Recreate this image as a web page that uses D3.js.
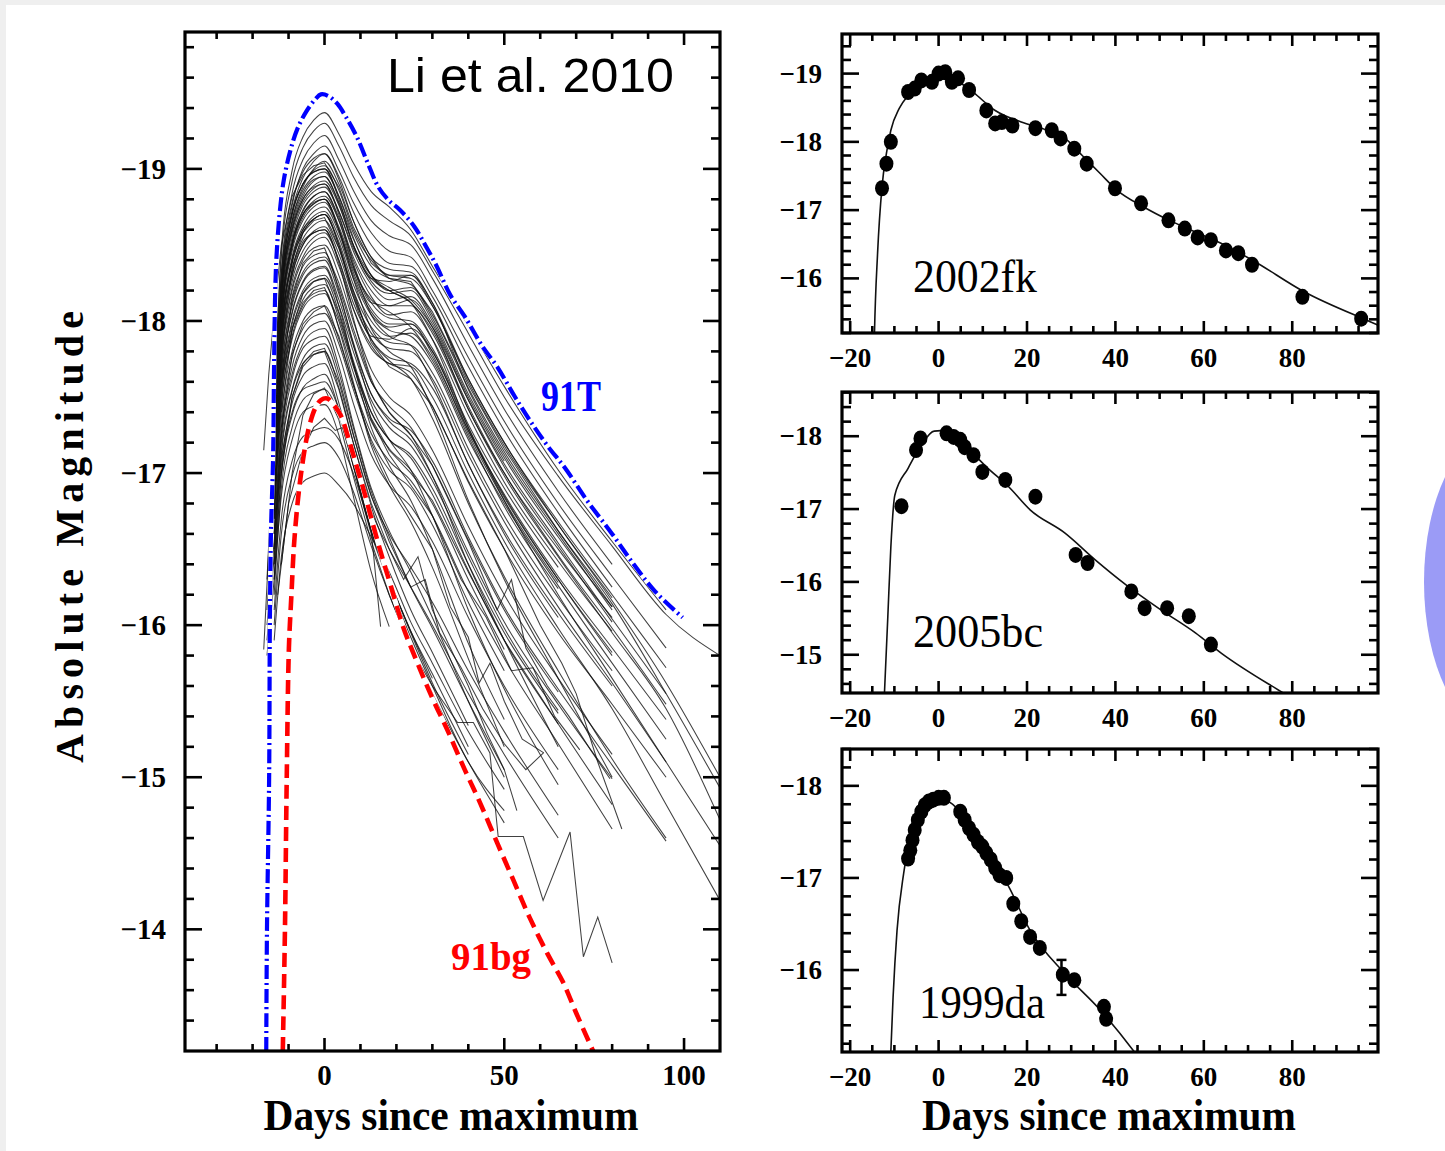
<!DOCTYPE html>
<html><head><meta charset="utf-8">
<script src="https://cdn.jsdelivr.net/npm/d3@7"></script>
<style>html,body{margin:0;padding:0;background:#fff;}svg{display:block;}</style>
</head><body>
<svg id="c" width="1445" height="1151"></svg>
<script>
const N = null;
// ---------- Left panel (Li et al. 2010) ----------
const LEFT_DAYS = [-16,-14,-12,-9,-6,-3,0,4,8,13,18,24,30,40,50,65,80,95,110];
const LEFT_CURVES = [
 [N,-17.47,-18.47,-18.99,-19.21,-19.32,-19.37,-19.23,-19.04,-18.85,-18.75,-18.6,-18.36,-17.97,-17.57,-17.02,-16.55,-16.1,N],
 [N,-17.5,-18.42,-18.92,-19.14,-19.25,-19.3,-19.15,-18.95,-18.76,-18.66,-18.56,-18.33,-17.92,-17.5,-16.98,-16.52,-16.07,-15.8],
 [N,-17.4,-18.32,-18.84,-19.06,-19.17,-19.22,-19.06,-18.86,-18.66,-18.56,-18.5,-18.28,-17.84,-17.42,-16.88,-16.4,N,N],
 [N,-17.3,-18.25,-18.76,-19.0,-19.1,-19.15,-18.99,-18.78,-18.58,-18.46,-18.42,-18.2,-17.76,-17.34,-16.8,-16.32,-15.85,N],
 [N,-17.25,-18.2,-18.72,-18.94,-19.05,-19.1,-18.95,-18.72,-18.5,-18.38,-18.36,-18.16,-17.7,-17.28,-16.74,-16.25,N,N],
 [N,-17.2,-18.15,-18.66,-18.88,-19.0,-19.05,-18.9,-18.66,-18.42,-18.3,-18.3,-18.1,-17.62,-17.2,-16.66,-16.16,-15.62,-15.0],
 [N,-17.3,-18.22,-18.7,-18.9,-18.99,-19.02,-18.86,-18.6,-18.4,-18.3,-18.28,-18.1,-17.6,-17.18,-16.66,-16.18,N,N],
 [-16.3,-17.25,-18.18,-18.66,-18.86,-18.95,-18.98,-18.82,-18.58,-18.36,-18.28,-18.24,-18.04,-17.56,-17.14,-16.62,-16.14,-15.55,-14.93],
 [N,-17.2,-18.15,-18.62,-18.82,-18.92,-18.95,-18.78,-18.54,-18.3,-18.2,-18.22,-18.02,-17.52,-17.1,-16.58,-16.12,N,N],
 [N,-17.15,-18.1,-18.6,-18.8,-18.89,-18.92,-18.76,-18.5,-18.3,-18.22,-18.14,-17.96,-17.48,-17.06,-16.54,-16.04,-15.55,N],
 [N,-17.2,-18.1,-18.58,-18.78,-18.87,-18.9,-18.72,-18.46,-18.24,-18.14,-18.16,-17.98,-17.48,-17.04,-16.52,-16.02,N,N],
 [N,-17.1,-18.06,-18.55,-18.76,-18.85,-18.88,-18.72,-18.48,-18.28,-18.2,-18.12,-17.94,-17.44,-17.0,-16.5,-16.05,N,N],
 [N,-17.05,-18.02,-18.52,-18.73,-18.82,-18.85,-18.68,-18.42,-18.2,-18.1,-18.1,-17.92,-17.42,-16.98,-16.45,-15.95,-15.45,-14.72],
 [N,-17.0,-18.0,-18.5,-18.7,-18.79,-18.82,-18.66,-18.4,-18.16,-18.04,-18.06,-17.88,-17.38,-16.94,-16.42,-15.96,N,N],
 [N,-17.0,-17.98,-18.48,-18.68,-18.77,-18.8,-18.62,-18.36,-18.12,-18.02,-18.0,-17.82,-17.32,-16.9,-16.38,N,N,N],
 [N,-16.95,-17.96,-18.46,-18.66,-18.75,-18.78,-18.6,-18.34,-18.14,-18.06,-17.96,-17.76,-17.28,-16.86,-16.32,-15.85,-15.38,N],
 [N,-16.9,-17.92,-18.42,-18.62,-18.72,-18.75,-18.58,-18.3,-18.06,-17.96,-17.98,-17.8,-17.3,-16.85,-16.3,-15.8,N,N],
 [N,-16.9,-17.9,-18.4,-18.6,-18.69,-18.72,-18.55,-18.28,-18.04,-17.94,-17.9,-17.72,-17.22,-16.8,-16.26,-15.75,-15.25,N],
 [N,-16.85,-17.88,-18.38,-18.58,-18.67,-18.7,-18.52,-18.24,-18.0,-17.9,-17.92,-17.74,-17.24,-16.78,-16.24,N,N,N],
 [N,-16.8,-17.84,-18.34,-18.54,-18.63,-18.66,-18.48,-18.2,-17.96,-17.86,-17.84,-17.66,-17.16,-16.72,-16.18,-15.7,N,N],
 [N,-16.8,-17.8,-18.3,-18.5,-18.59,-18.62,-18.44,-18.16,-17.92,-17.82,-17.8,-17.62,-17.12,-16.68,-16.12,-15.62,-15.1,N],
 [N,-16.75,-17.76,-18.26,-18.46,-18.55,-18.58,-18.4,-18.12,-17.88,-17.76,-17.72,-17.56,-17.06,-16.6,-16.05,N,N,N],
 [N,-16.7,-17.72,-18.22,-18.42,-18.52,-18.55,-18.36,-18.08,-17.84,-17.72,-17.7,-17.5,-17.0,-16.55,-15.98,-15.45,-14.82,-14.19],
 [N,-17.4,-18.3,-18.72,-18.9,-18.98,-19.0,-18.8,-18.5,-18.28,-18.26,-18.3,-18.12,-17.55,-17.12,-16.6,-16.1,N,N],
 [N,-17.3,-18.2,-18.6,-18.8,-18.88,-18.9,-18.7,-18.38,-18.12,-18.1,-18.14,-17.96,-17.42,-17.0,-16.46,-15.98,-15.48,N],
 [N,-17.1,-18.05,-18.52,-18.72,-18.82,-18.85,-18.66,-18.36,-18.04,-17.9,-17.84,-17.6,-17.06,-16.62,-16.08,-15.6,N,N],
 [N,-17.0,-17.9,-18.38,-18.58,-18.67,-18.7,-18.5,-18.16,-17.9,-17.88,-17.95,-17.8,-17.28,-16.84,-16.3,-15.82,N,N],
 [N,-16.9,-17.82,-18.3,-18.5,-18.58,-18.6,-18.4,-18.08,-17.82,-17.72,-17.66,-17.44,-16.94,-16.5,-15.95,-15.48,-15.0,N],
 [N,-17.35,-18.3,-18.78,-18.98,-19.07,-19.1,-18.93,-18.66,-18.42,-18.34,-18.32,-18.12,-17.62,-17.2,-16.68,-16.2,-15.72,N],
 [N,-17.25,-18.16,-18.64,-18.84,-18.93,-18.95,-18.77,-18.5,-18.26,-18.18,-18.2,-18.0,-17.5,-17.08,N,N,N,N],
 [N,-17.15,-18.05,-18.5,-18.7,-18.78,-18.8,-18.6,-18.32,-18.08,-17.98,-17.98,-17.78,-17.26,-16.82,-16.28,N,N,N],
 [N,-17.0,-17.75,-18.2,-18.4,-18.48,-18.5,-18.3,-18.0,-17.68,-17.5,-17.38,-17.15,-16.65,-16.2,-15.65,-15.15,N,N],
 [N,-16.9,-17.67,-18.12,-18.32,-18.4,-18.42,-18.22,-17.92,-17.6,-17.44,-17.3,-17.05,-16.56,-16.1,-15.56,N,N,N],
 [N,-16.85,-17.6,-18.06,-18.26,-18.34,-18.36,-18.14,-17.84,-17.52,-17.34,-17.22,-16.98,-16.48,-16.02,-15.48,-14.99,N,N],
 [-16.1,-16.8,-17.55,-18.0,-18.2,-18.28,-18.3,-18.1,-17.8,-17.48,-17.3,-17.18,-16.95,-16.45,-15.98,-15.44,N,N,N],
 [N,-16.75,-17.5,-17.94,-18.14,-18.22,-18.24,-18.02,-17.72,-17.4,-17.22,-17.1,-16.86,-16.36,-15.9,-15.35,-14.82,N,N],
 [N,-16.7,-17.44,-17.88,-18.08,-18.16,-18.18,-17.96,-17.66,-17.34,-17.16,-17.02,-16.8,-16.3,-15.84,N,N,N,N],
 [N,-16.6,-17.36,-17.8,-18.0,-18.08,-18.1,-17.88,-17.58,-17.26,-17.08,-16.95,-16.72,-16.22,-15.78,-15.22,-14.66,N,N],
 [N,-16.6,-17.3,-17.76,-17.95,-18.03,-18.05,-17.85,-17.55,-17.22,-17.02,-16.9,-16.66,-16.15,-15.7,N,N,N,N],
 [-16.0,-16.55,-17.25,-17.7,-17.9,-17.98,-18.0,-17.78,-17.46,-17.12,-16.92,-16.78,-16.55,-16.05,-15.6,-15.05,N,N,N],
 [N,-16.95,-17.66,-18.1,-18.3,-18.38,-18.4,-18.18,-17.86,-17.52,-17.36,-17.28,-17.08,-16.58,-16.12,-15.58,-15.08,-14.58,N],
 [N,-16.8,-17.52,-17.98,-18.18,-18.26,-18.28,-18.06,-17.74,-17.4,-17.22,-17.12,-16.9,-16.4,-15.95,-15.42,N,N,N],
 [N,-16.5,-17.2,-17.62,-17.82,-17.88,-17.9,-17.66,-17.3,-16.88,-16.58,-16.25,-15.98,-15.5,-15.05,N,N,N,N],
 [-15.9,-16.45,-17.12,-17.54,-17.72,-17.78,-17.8,-17.56,-17.2,-16.78,-16.45,-16.1,-15.82,-15.34,N,N,N,N,N],
 [N,-16.4,-17.05,-17.46,-17.64,-17.7,-17.72,-17.46,-17.08,-16.62,-16.3,-15.96,-15.65,N,N,N,N,N,N],
 [N,-16.3,-16.98,-17.38,-17.56,-17.62,-17.65,-17.42,-17.05,-16.6,-16.28,-15.92,-15.6,-15.1,-14.78,N,N,N,N],
 [N,-16.2,-16.9,-17.3,-17.48,-17.53,-17.55,-17.38,-17.05,-16.62,-16.3,-15.96,-15.68,-15.2,N,N,N,N,N],
 [-15.8,-16.3,-16.85,-17.22,-17.4,-17.44,-17.45,-17.25,-16.85,-16.35,-15.99,N,N,N,N,N,N,N,N],
 [N,-16.1,-16.7,-17.08,-17.24,-17.28,-17.3,-17.22,-17.0,-16.62,-16.3,-15.95,-15.62,-15.15,N,N,N,N,N],
 [N,-16.0,-16.6,-16.98,-17.14,-17.18,-17.2,-17.1,-16.88,-16.52,-16.2,-15.86,-15.55,-15.1,-14.7,N,N,N,N],
 [N,-15.9,-16.45,-16.8,-16.94,-16.98,-17.0,-16.92,-16.8,-16.58,-16.35,-16.02,-15.75,-15.3,-14.92,N,N,N,N],
 [N,-16.9,-17.85,-18.32,-18.52,-18.58,-18.6,-18.38,-18.02,-17.62,-17.4,-17.25,-16.98,-16.4,-15.9,-15.2,N,N,N],
 [N,-16.8,-17.7,-18.16,-18.36,-18.43,-18.45,-18.2,-17.85,-17.45,-17.22,-17.02,-16.72,-16.1,-15.58,-14.95,N,N,N],
 [N,-17.1,-18.0,-18.5,-18.7,-18.77,-18.8,-18.6,-18.28,-17.95,-17.8,-17.7,-17.42,-16.82,-16.3,-15.65,-15.0,N,N],
 [N,-16.8,-17.6,-18.05,-18.25,-18.33,-18.35,-18.1,-17.72,-17.3,-17.05,-16.82,-16.5,-15.88,-15.38,N,N,N,N],
 [N,-16.7,-17.45,-17.9,-18.1,-18.18,-18.2,-17.95,-17.6,-17.18,-16.92,-16.68,-16.38,-15.78,-15.2,N,N,N,N],
 [N,-16.5,-17.25,-17.65,-17.85,-17.93,-17.95,-17.7,-17.32,-16.9,-16.62,-16.35,-16.05,-15.5,-15.0,N,N,N,N],
 [N,-17.0,-17.9,-18.4,-18.6,-18.67,-18.7,-18.5,-18.2,-17.88,-17.74,-17.62,-17.36,-16.8,-16.32,-15.7,-15.12,-14.6,N],
 [N,-17.3,-18.2,-18.7,-18.9,-18.98,-19.0,-18.82,-18.55,-18.3,-18.2,-18.12,-17.88,-17.3,-16.82,-16.2,-15.65,-15.1,-14.55],
 [N,-16.3,-17.0,-17.4,-17.55,-17.58,-17.6,-17.42,-17.12,-16.75,-16.5,-16.25,-16.0,-15.55,-15.15,-14.6,N,N,N],
 [N,-16.4,-17.15,-17.55,-17.75,-17.83,-17.85,-17.62,-17.26,-16.85,-16.6,-16.38,-16.15,-15.7,-15.3,-14.75,N,N,N]
];
// curves sampled at their own epochs: [day, magnitude]
const LEFT_IRREGULAR = [
 [[-12,-16.4],[-9,-17.0],[-6,-17.38],[-3,-17.52],[0,-17.56],[4,-17.35],[8,-16.98],[13,-16.55],[18,-16.2],[24,-15.85],[30,-15.6],[37,-15.36],[41.4,-15.36],[46,-15.16],[48.3,-14.61],[55.3,-14.61],[60.8,-14.19],[68.3,-14.64],[72,-13.82],[76,-14.08],[80,-13.78]],
 [[-12,-17.3],[-9,-17.78],[-6,-17.98],[-3,-18.06],[0,-18.1],[4,-17.9],[8,-17.58],[13,-17.2],[18,-16.95],[24,-16.72],[30,-16.5],[35,-16.12],[40,-15.92],[43,-15.62],[46,-15.75],[50,-15.5],[55,-15.25],[61,-15.16]],
 [[-14,-16.6],[-12,-17.1],[-9,-17.5],[-6,-17.7],[-3,-17.78],[0,-17.8],[4,-17.55],[8,-17.2],[13,-16.8],[18,-16.5],[22,-16.3],[26,-16.45],[30,-16.1],[35,-15.85],[40,-15.6],[45,-15.3],[50,-15.05],[53.5,-14.78]],
 [[-12,-17.6],[-9,-18.15],[-6,-18.38],[-3,-18.46],[0,-18.48],[4,-18.25],[8,-17.95],[13,-17.6],[18,-17.4],[24,-17.25],[30,-17.05],[40,-16.55],[48,-16.1],[52,-16.3],[56,-15.85],[62,-15.6],[68,-15.4],[74,-15.18],[79.4,-14.99]],
 [[-12,-17.8],[-9,-18.35],[-6,-18.58],[-3,-18.66],[0,-18.68],[4,-18.48],[8,-18.18],[13,-17.86],[18,-17.7],[24,-17.62],[30,-17.44],[40,-16.95],[50,-16.5],[60,-16.0],[66,-15.75],[70,-15.55],[76,-15.1],[82.7,-14.66]],
 [[-16.9,-17.15],[-15.5,-17.65],[-14,-18.05],[-12,-18.5],[-9,-18.82],[-6,-18.96],[-3,-19.02],[0,-19.04],[4,-18.88],[8,-18.62],[13,-18.38],[18,-18.28],[24,-18.26],[30,-18.06],[40,-17.58],[50,-17.16],[65,-16.62],[80,-16.12]],
 [[-16.9,-15.84],[-15.5,-16.5],[-14,-17.1],[-12,-17.6],[-9,-17.95],[-6,-18.12],[-3,-18.2],[0,-18.22],[4,-18.0],[8,-17.7],[13,-17.36],[18,-17.15],[24,-17.0],[30,-16.82],[40,-16.35],[50,-15.9],[65,-15.35]],
 [[-13,-16.2],[-10,-16.8],[-6,-17.15],[-3,-17.3],[0,-17.36],[3,-17.28],[5,-17.3],[8,-17.05],[13,-16.62],[15.6,-15.99]],
 [[-12,-17.0],[-9,-17.5],[-6,-17.72],[-3,-17.8],[0,-17.82],[4,-17.6],[8,-17.25],[13,-16.85],[18,-16.55],[24,-16.25],[28,-16.3],[32,-15.95],[38,-15.72],[44,-15.45],[50,-15.22],[56,-15.05],[60.9,-15.16]],
 [[-12,-17.4],[-9,-17.95],[-6,-18.18],[-3,-18.26],[0,-18.28],[4,-18.05],[8,-17.72],[13,-17.35],[18,-17.12],[24,-16.92],[30,-16.72],[38,-16.3],[45,-16.05],[52,-15.7],[58,-15.72],[64,-15.4],[71,-15.18]]
];
const T91_DAYS = [-16.2,-16.0,-15.4,-15.2,-14.9,-14.3,-14.0,-13.5,-12.5,-11.3,-9.5,-7.6,-5,-2.5,-1,1,3.5,6,9,12,15,18,21,25,28,31,35,39,44,48,53,57,62,67,73,80,86,92,99.6];
const T91_MAGS = [-13.2,-14.0,-15.0,-16.0,-16.6,-17.1,-17.75,-18.35,-18.7,-18.93,-19.12,-19.26,-19.38,-19.46,-19.49,-19.48,-19.43,-19.34,-19.21,-19.04,-18.88,-18.79,-18.73,-18.62,-18.5,-18.37,-18.17,-18.03,-17.83,-17.7,-17.5,-17.35,-17.18,-17.03,-16.82,-16.6,-16.4,-16.22,-16.05];
const BG91_DAYS = [-11.6,-11.0,-10.5,-9.9,-9.2,-8.5,-7.5,-6.5,-5.2,-4,-2.5,-1,0.8,2.5,4.5,7,9,11,13.5,16,18.3,22,25,30,34,39,43.3,48,52.6,57,62,66.4,70,74.7];
const BG91_MAGS = [-13.2,-14.0,-15.0,-15.85,-16.2,-16.52,-16.8,-17.0,-17.2,-17.33,-17.43,-17.48,-17.49,-17.45,-17.38,-17.2,-17.04,-16.88,-16.66,-16.45,-16.27,-15.98,-15.8,-15.52,-15.32,-15.05,-14.83,-14.57,-14.32,-14.08,-13.84,-13.65,-13.45,-13.2];
const LEFT_X_MAJOR = [0,50,100];
const LEFT_X_LABELS = ['0','50','100'];
const LEFT_X_MINOR = [-30,-20,-10,10,20,30,40,60,70,80,90];
const LEFT_Y_MAJOR = [-19,-18,-17,-16,-15,-14];
const LEFT_Y_LABELS = ['\u221219','\u221218','\u221217','\u221216','\u221215','\u221214'];

// ---------- Right panels ----------
const RIGHT_X_MAJOR = [-20,0,20,40,60,80];
const RIGHT_X_LABELS = ['\u221220','0','20','40','60','80'];

const FK_DAYS = [-12.8,-11.8,-10.8,-6.9,-5.4,-3.9,-1.5,0,1.5,3.0,4.4,6.9,10.8,12.8,14.3,16.7,21.9,25.6,27.6,30.7,33.5,39.9,45.8,52.0,55.7,58.6,61.6,65.0,67.8,70.9,82.3,95.6];
const FK_MAGS = [-17.32,-17.68,-18.0,-18.73,-18.78,-18.9,-18.88,-19.0,-19.02,-18.88,-18.93,-18.76,-18.46,-18.27,-18.29,-18.24,-18.2,-18.17,-18.05,-17.9,-17.68,-17.32,-17.1,-16.85,-16.73,-16.6,-16.56,-16.41,-16.37,-16.2,-15.73,-15.41];
const FK_FIT_DAYS = [-14.6,-14.5,-13.8,-12.8,-11.8,-10.8,-8.9,-6.9,-3.9,0,3.9,7.9,12.8,18.7,24.6,28.6,32.5,36.5,40.4,46.3,52.2,58.1,64,70.9,82.8,97.5,100];
const FK_FIT_MAGS = [-14.9,-15.2,-16.37,-17.34,-17.83,-18.17,-18.49,-18.68,-18.84,-18.95,-18.9,-18.72,-18.46,-18.29,-18.17,-18.05,-17.8,-17.54,-17.29,-17.05,-16.85,-16.68,-16.51,-16.27,-15.8,-15.37,-15.3];
const FK_Y_MAJOR = [-19,-18,-17,-16];

const BC_DAYS = [-8.4,-5.1,-4.1,1.8,3.4,4.9,5.9,7.9,9.9,15.1,21.9,31.0,33.7,43.6,46.6,51.7,56.6,61.6];
const BC_MAGS = [-17.04,-17.81,-17.97,-18.04,-17.99,-17.95,-17.85,-17.74,-17.51,-17.4,-17.17,-16.37,-16.26,-15.87,-15.64,-15.64,-15.53,-15.14];
const BC_FIT_DAYS = [-12.3,-11.5,-10.8,-9.9,-6.9,-3.9,-1,2,5.9,10.8,15.8,20.7,28.6,35.5,42.4,50.2,58.1,64,77.3,80];
const BC_FIT_MAGS = [-14.4,-15.5,-16.48,-17.19,-17.56,-17.88,-18.07,-18.08,-17.88,-17.58,-17.31,-16.99,-16.67,-16.3,-15.96,-15.62,-15.3,-15.02,-14.5,-14.4];
const BC_Y_MAJOR = [-18,-17,-16,-15];

const DA_DAYS = [-6.9,-6.4,-5.9,-5.4,-4.7,-3.9,-3.1,-2.2,-1.2,0,1.2,4.9,5.9,6.9,7.9,8.9,9.9,10.8,11.8,12.8,13.8,15.3,16.9,18.7,20.7,22.9,28.1,30.7,37.4,37.9];
const DA_MAGS = [-17.21,-17.3,-17.41,-17.52,-17.63,-17.72,-17.79,-17.83,-17.85,-17.87,-17.87,-17.72,-17.63,-17.54,-17.47,-17.39,-17.34,-17.27,-17.2,-17.11,-17.03,-17.0,-16.72,-16.53,-16.36,-16.24,-15.95,-15.89,-15.6,-15.47];
const DA_FIT_DAYS = [-10.9,-10.3,-9.4,-7.9,-4.9,-2,1,2.9,8.9,15.8,20.7,28.6,36.5,44.3,46];
const DA_FIT_MAGS = [-15.0,-15.7,-16.43,-17.05,-17.58,-17.78,-17.85,-17.81,-17.41,-16.91,-16.43,-15.96,-15.57,-15.11,-15.0];
const DA_ERR = [27.8,-16.11,-15.73];
const DA_Y_MAJOR = [-18,-17,-16];

const SERIF = '"Liberation Serif","Times New Roman",serif';
const svg = d3.select('#c');
svg.append('rect').attr('width',1445).attr('height',1151).attr('fill','#fff');
svg.append('rect').attr('x',0).attr('y',0).attr('width',1445).attr('height',5).attr('fill','#efefef');
svg.append('rect').attr('x',0).attr('y',0).attr('width',6).attr('height',1151).attr('fill','#efefef');
svg.append('ellipse').attr('cx',1500).attr('cy',582).attr('rx',76).attr('ry',152).attr('fill','#9b9bf6');

function txt(g, x, y, s, o){
  const t = g.append('text').attr('x',x).attr('y',y)
    .attr('font-family', o.family||SERIF).attr('font-size',o.size)
    .attr('font-weight', o.weight||'bold').attr('text-anchor', o.anchor||'middle')
    .attr('fill', o.fill||'#000').text(s);
  if (o.len) t.attr('textLength',o.len).attr('lengthAdjust',o.adjust||'spacingAndGlyphs');
  if (o.rotate) t.attr('transform',`rotate(${o.rotate},${x},${y})`);
  return t;
}
function minorRange(a,b,step,majors){
  const out=[]; const n=Math.round((b-a)/step);
  for(let i=0;i<=n;i++){const v=+(a+i*step).toFixed(4); if(!majors.some(m=>Math.abs(m-v)<1e-6)) out.push(v);}
  return out;
}
function frame(g, x, y, xMaj, xMin, yMaj, yMin, L){
  const [x0,x1]=x.range(), [y0,y1]=y.range();
  const tk = g.append('g').attr('stroke','#000').attr('stroke-width',2.6);
  xMaj.forEach(v=>{const px=x(v);
    tk.append('line').attr('x1',px).attr('x2',px).attr('y1',y1).attr('y2',y1-L.xM);
    tk.append('line').attr('x1',px).attr('x2',px).attr('y1',y0).attr('y2',y0+L.xM);});
  xMin.forEach(v=>{const px=x(v);
    tk.append('line').attr('x1',px).attr('x2',px).attr('y1',y1).attr('y2',y1-L.xm);
    tk.append('line').attr('x1',px).attr('x2',px).attr('y1',y0).attr('y2',y0+L.xm);});
  yMaj.forEach(v=>{const py=y(v);
    tk.append('line').attr('y1',py).attr('y2',py).attr('x1',x0).attr('x2',x0+L.yM);
    tk.append('line').attr('y1',py).attr('y2',py).attr('x1',x1).attr('x2',x1-L.yM);});
  yMin.forEach(v=>{const py=y(v);
    tk.append('line').attr('y1',py).attr('y2',py).attr('x1',x0).attr('x2',x0+L.ym);
    tk.append('line').attr('y1',py).attr('y2',py).attr('x1',x1).attr('x2',x1-L.ym);});
  g.append('rect').attr('x',x0).attr('y',y0).attr('width',x1-x0).attr('height',y1-y0)
    .attr('fill','none').attr('stroke','#000').attr('stroke-width',3.2);
}

// ---------- LEFT PANEL ----------
const xL = d3.scaleLinear().domain([-38.8,110]).range([185,720]);
const yL = d3.scaleLinear().domain([-19.9,-13.2]).range([32,1051]);
const gL = svg.append('g');
svg.append('clipPath').attr('id','clipL').append('rect').attr('x',185).attr('y',32).attr('width',535).attr('height',1019);
const plotL = gL.append('g').attr('clip-path','url(#clipL)');
const lineL = d3.line().x(d=>xL(d[0])).y(d=>yL(d[1])).curve(d3.curveMonotoneX);
LEFT_CURVES.forEach(c=>{
  const pts = LEFT_DAYS.map((d,i)=>[d,c[i]]).filter(p=>p[1]!==null);
  plotL.append('path').attr('d',lineL(pts)).attr('fill','none').attr('stroke','#111').attr('stroke-opacity',0.8).attr('stroke-width',1.05);
});
LEFT_IRREGULAR.forEach(c=>{
  plotL.append('path').attr('d',d3.line().x(d=>xL(d[0])).y(d=>yL(d[1]))(c)).attr('fill','none').attr('stroke','#111').attr('stroke-opacity',0.8).attr('stroke-width',1.05);
});
const t91 = T91_DAYS.map((d,i)=>[d,T91_MAGS[i]]);
const bg91 = BG91_DAYS.map((d,i)=>[d,BG91_MAGS[i]]);
const smooth = d3.line().x(d=>xL(d[0])).y(d=>yL(d[1])).curve(d3.curveCatmullRom.alpha(0.5));
plotL.append('path').attr('d',smooth(t91)).attr('fill','none').attr('stroke','#fff').attr('stroke-width',4.5);
plotL.append('path').attr('d',smooth(t91)).attr('fill','none').attr('stroke','#0000ff').attr('stroke-width',4.2).attr('stroke-dasharray','14,4,2,4');
plotL.append('path').attr('d',smooth(bg91)).attr('fill','none').attr('stroke','#fff').attr('stroke-width',5);
plotL.append('path').attr('d',smooth(bg91)).attr('fill','none').attr('stroke','#ff0000').attr('stroke-width',4.6).attr('stroke-dasharray','14,7');

frame(gL, xL, yL, LEFT_X_MAJOR, LEFT_X_MINOR, LEFT_Y_MAJOR, minorRange(-19.8,-13.4,0.2,LEFT_Y_MAJOR), {xM:13,xm:7,yM:17,ym:9});
LEFT_Y_MAJOR.forEach((v,i)=>txt(gL,166,yL(v)+10,LEFT_Y_LABELS[i],{size:29,anchor:'end'}));
LEFT_X_MAJOR.forEach((v,i)=>txt(gL,xL(v),1085,LEFT_X_LABELS[i],{size:29}));
txt(gL,451,1130,'Days since maximum',{size:44,len:375});
txt(gL,83,537,'Absolute Magnitude',{size:40,len:452,adjust:'spacing',rotate:-90});
txt(gL,387,92,'Li et al. 2010',{size:49,weight:'normal',anchor:'start',family:'"Liberation Sans",Arial,sans-serif',len:287});
txt(gL,541,411,'91T',{size:44,anchor:'start',fill:'#0000ff',len:60});
txt(gL,451,970,'91bg',{size:40,anchor:'start',fill:'#ff0000',len:80});

// ---------- RIGHT PANELS ----------
const xR = d3.scaleLinear().domain([-21.85,99.4]).range([842,1378]);
const RIGHT_X_MINOR = minorRange(-20,95,5,RIGHT_X_MAJOR);
function rightPanel(id, top, bottom, ydom, yMaj, days, mags, fd, fm, name, nameY, nameX, nameLen){
  const y = d3.scaleLinear().domain(ydom).range([top,bottom]);
  const g = svg.append('g');
  svg.append('clipPath').attr('id',id).append('rect').attr('x',842).attr('y',top).attr('width',536).attr('height',bottom-top);
  const p = g.append('g').attr('clip-path',`url(#${id})`);
  const fit = fd.map((d,i)=>[d,fm[i]]);
  p.append('path').attr('d',d3.line().x(d=>xR(d[0])).y(d=>y(d[1])).curve(d3.curveMonotoneX)(fit))
    .attr('fill','none').attr('stroke','#111').attr('stroke-width',1.6);
  p.selectAll('ellipse.pt').data(days.map((d,i)=>[d,mags[i]])).enter().append('ellipse')
    .attr('cx',d=>xR(d[0])).attr('cy',d=>y(d[1])).attr('rx',7).attr('ry',8).attr('fill','#000');
  const yMin = minorRange(Math.ceil(ydom[0]*5)/5, Math.floor(ydom[1]*5)/5, 0.2, yMaj);
  frame(g, xR, y, RIGHT_X_MAJOR, RIGHT_X_MINOR, yMaj, yMin, {xM:12,xm:7,yM:17,ym:9});
  yMaj.forEach(v=>txt(g,822,y(v)+9,'\u2212'+Math.abs(v),{size:27,anchor:'end'}));
  RIGHT_X_MAJOR.forEach((v,i)=>txt(g,xR(v),bottom+34,RIGHT_X_LABELS[i],{size:27}));
  txt(g,nameX,nameY,name,{size:46,weight:'normal',anchor:'start',len:nameLen});
  return {g,y,p};
}
rightPanel('c1',34,333,[-19.58,-15.2],FK_Y_MAJOR,FK_DAYS,FK_MAGS,FK_FIT_DAYS,FK_FIT_MAGS,'2002fk',292,913,124);
rightPanel('c2',392,693,[-18.607,-14.475],BC_Y_MAJOR,BC_DAYS,BC_MAGS,BC_FIT_DAYS,BC_FIT_MAGS,'2005bc',647,913,130);
const r3 = rightPanel('c3',749,1052,[-18.4,-15.11],DA_Y_MAJOR,DA_DAYS,DA_MAGS,DA_FIT_DAYS,DA_FIT_MAGS,'1999da',1018,919,126);
// error bar
const ex = xR(DA_ERR[0]);
r3.p.append('line').attr('x1',ex).attr('x2',ex).attr('y1',r3.y(DA_ERR[1])).attr('y2',r3.y(DA_ERR[2])).attr('stroke','#000').attr('stroke-width',2.5);
[DA_ERR[1],DA_ERR[2]].forEach(m=>r3.p.append('line').attr('x1',ex-5).attr('x2',ex+5).attr('y1',r3.y(m)).attr('y2',r3.y(m)).attr('stroke','#000').attr('stroke-width',2.5));
txt(svg,1109,1130,'Days since maximum',{size:44,len:374});
</script>
</body></html>
